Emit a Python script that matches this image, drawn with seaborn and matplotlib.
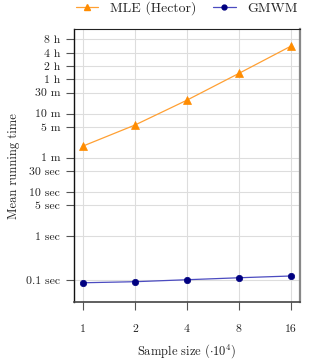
import matplotlib
matplotlib.use("Agg")
import matplotlib.pyplot as plt
import seaborn as sns
import pandas as pd
import numpy as np
from matplotlib.ticker import FixedLocator, NullLocator
from matplotlib.lines import Line2D

# Data
sample_sizes = [1, 2, 4, 8, 16]
mle_seconds = [110, 330, 1210, 4900, 20300]
gmwm_seconds = [0.087, 0.092, 0.102, 0.113, 0.124]
y_tick_values = [0.1, 1, 5, 10, 30, 60, 300, 600, 1800, 3600, 7200, 14400, 28800]
y_tick_labels = ["0.1 sec", "1 sec", "5 sec", "10 sec", "30 sec", "1 m", "5 m",
                 "10 m", "30 m", "1 h", "2 h", "4 h", "8 h"]
x_tick_labels = ["1", "2", "4", "8", "16"]

df = pd.DataFrame({
    "size": sample_sizes * 2,
    "time": mle_seconds + gmwm_seconds,
    "method": ["MLE (Hector)"] * 5 + ["GMWM"] * 5,
})

sns.set_theme(style="white")
plt.rcParams["font.family"] = ["cmr10", "DejaVu Serif"]
plt.rcParams["mathtext.fontset"] = "cm"
plt.rcParams["axes.formatter.use_mathtext"] = True

fig = plt.figure(figsize=(3.15, 3.6), dpi=100)
ax = fig.add_axes([0.235, 0.161, 0.717, 0.758])

palette = {"MLE (Hector)": "#ffa033", "GMWM": "#4b4bc0"}
sns.lineplot(data=df, x="size", y="time", hue="method", palette=palette,
             style="method", markers={"MLE (Hector)": "^", "GMWM": "o"},
             dashes=False, linewidth=0.9, ax=ax, legend=False)
mcolors = {"MLE (Hector)": "#ff8c00", "GMWM": "#000080"}
msizes = {"MLE (Hector)": 6, "GMWM": 4.6}
for line, name in zip(ax.lines, ["MLE (Hector)", "GMWM"]):
    line.set_markerfacecolor(mcolors[name])
    line.set_markeredgecolor(mcolors[name])
    line.set_markersize(msizes[name])
    line.set_markeredgewidth(0.5)

ax.set_xscale("log", base=2)
ax.set_yscale("log")
ax.set_xlim(0.887, 18.05)
ax.set_ylim(0.0318, 49400)

ax.xaxis.set_major_locator(FixedLocator(sample_sizes))
ax.set_xticklabels(x_tick_labels)
ax.xaxis.set_minor_locator(NullLocator())
ax.yaxis.set_major_locator(FixedLocator(y_tick_values))
ax.set_yticklabels(y_tick_labels)
ax.yaxis.set_minor_locator(NullLocator())

ax.grid(True, color="#dddddd", linewidth=0.8)
ax.set_axisbelow(True)
ax.tick_params(axis="both", which="major", direction="out", length=6,
               width=0.8, color="#555555", labelsize=8.5, labelcolor="#222222",
               bottom=True, left=True, pad=4)
ax.tick_params(axis="x", pad=10)

ax.spines["left"].set_color("#111111")
ax.spines["left"].set_linewidth(1.0)
ax.spines["top"].set_color("#222222")
ax.spines["top"].set_linewidth(0.8)
ax.spines["right"].set_color("#888888")
ax.spines["right"].set_linewidth(1.6)
ax.spines["bottom"].set_color("#444444")
ax.spines["bottom"].set_linewidth(1.2)

ax.set_xlabel(r"Sample size $(\cdot 10^4)$", fontsize=9, color="#222222", labelpad=6)
ax.set_ylabel("Mean running time", fontsize=9, color="#222222", labelpad=4)

handles = [
    Line2D([], [], color=palette["MLE (Hector)"], marker="^", markersize=5,
           markerfacecolor=mcolors["MLE (Hector)"], markeredgecolor=mcolors["MLE (Hector)"], linewidth=0.9),
    Line2D([], [], color=palette["GMWM"], marker="o", markersize=3.5,
           markerfacecolor=mcolors["GMWM"], markeredgecolor=mcolors["GMWM"], linewidth=0.9),
]
ax.legend(handles, ["MLE (Hector)", "GMWM"], loc="lower center",
          bbox_to_anchor=(0.5, 1.03), ncol=2, frameon=False, fontsize=10,
          handlelength=1.6, columnspacing=1.2, handletextpad=0.85,
          borderaxespad=0)

fig.savefig("out.png", dpi=100)
